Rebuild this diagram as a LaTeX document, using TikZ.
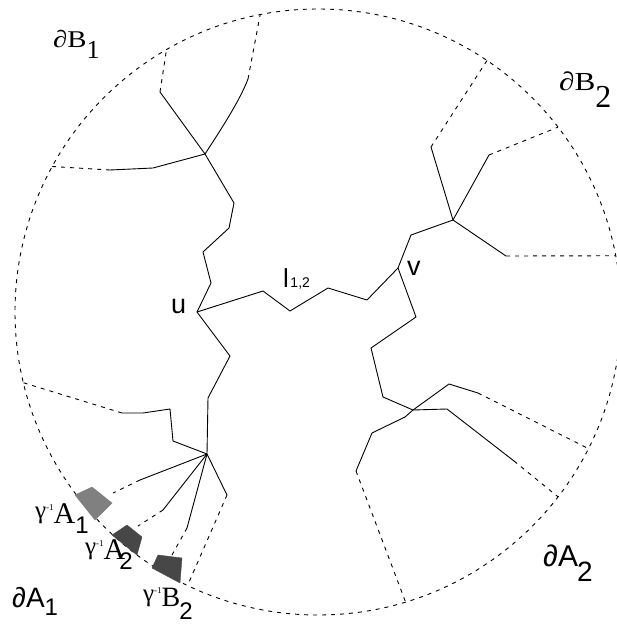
\documentclass[tikz,border=0pt]{standalone}
\usepackage{fontspec}
\setmainfont{Liberation Serif}
\newfontfamily\wideserif[FakeStretch=1.2]{Liberation Serif}
\newfontfamily\labsans{Liberation Sans}
\usetikzlibrary{calc}
\newcommand\fsz[1]{\fontsize{#1}{#1}\selectfont}

\begin{document}
\begin{tikzpicture}[x=1pt,y=-1pt,
  tree/.style={line width=0.9pt,line join=round},
  bound/.style={line width=0.9pt,dash pattern=on 4pt off 5pt},
  lab/.style={inner sep=0pt,anchor=base west},
  patchlight/.style={fill=black!50,draw=black!50,line width=0.4pt},
  patchdark/.style={fill=black!72,draw=black!72,line width=0.4pt}]

\useasboundingbox (0,0) rectangle (616,624);

% outer boundary circle
\coordinate (c) at (318,312);
\draw[bound] (c) circle[radius=303];

% points where the dashed branches meet the boundary
\coordinate (b1a) at ($(c)+(-120:303)$);
\coordinate (b1b) at ($(c)+(-101:303)$);
\coordinate (b1c) at ($(c)+(-151.3:303)$);
\coordinate (b2a) at ($(c)+(-56.1:303)$);
\coordinate (b2b) at ($(c)+(-37.6:303)$);
\coordinate (b2c) at ($(c)+(-10.7:303)$);
\coordinate (a2a) at ($(c)+(26.8:303)$);
\coordinate (a2b) at ($(c)+(37.6:303)$);
\coordinate (a2c) at ($(c)+(73.2:303)$);
\coordinate (a1a) at ($(c)+(166.5:303)$);
\coordinate (a1e) at ($(c)+(115.5:303)$);

% branching vertices
\coordinate (u)  at (197,312);
\coordinate (v)  at (398,268);
\coordinate (t1) at (205,154);
\coordinate (t2) at (453,220);
\coordinate (t3) at (413,410);
\coordinate (t4) at (207,454);

% path l_{1,2} from u to v
\draw[tree] (u) -- (263,291) -- (290,311) -- (328,288) -- (367,300) -- (v);

% subtree towards B1
\draw[tree] (u) -- (211,283) -- (203,252) -- (229,228) -- (234,203) -- (t1);
\draw[tree] (t1) -- (160,92);
\draw[bound] (160,92) -- (b1a);
\draw[tree] (t1) .. controls (222,128) and (240,100) .. (248,79);
\draw[bound] (248,79) -- (b1b);
\draw[tree] (t1) -- (153,168) -- (110,170);
\draw[bound] (110,170) -- (b1c);

% subtree towards B2
\draw[tree] (v) -- (411,235) -- (t2);
\draw[tree] (t2) -- (431,147);
\draw[bound] (431,147) -- (b2a);
\draw[tree] (t2) -- (489,155);
\draw[bound] (489,155) -- (b2b);
\draw[tree] (t2) -- (506,256);
\draw[bound] (506,256) -- (b2c);

% subtree towards A2
\draw[tree] (v) -- (416,317) -- (371,348) -- (383,397) -- (t3);
\draw[tree] (t3) -- (447,409) -- (514,461);
\draw[bound] (514,461) -- (a2b);
\draw[tree] (t3) -- (449,384) -- (478,393);
\draw[bound] (478,393) -- (a2a);
\draw[tree] (t3) -- (405,417) -- (372,433) -- (356,471);
\draw[bound] (356,471) -- (a2c);

% subtree towards A1
\draw[tree] (u) -- (230,356) -- (208,398) -- (t4);
\draw[tree] (t4) -- (173,441) -- (170,409) -- (143,413) -- (122,413);
\draw[bound] (122,413) -- (a1a);
\draw[tree] (t4) -- (140,480);
\draw[bound] (140,480) -- (113,493);
\draw[tree] (t4) -- (163,510);
\draw[bound] (163,510) -- (138,526);
\draw[tree] (t4) -- (187,528);
\draw[bound] (187,528) -- (172,555);
\draw[tree] (t4) -- (227,495);
\draw[bound] (227,495) -- (a1e);

% shaded patches on the boundary
\fill[patchlight] (75,495) -- (92,487) -- (112,503) -- (95,520) -- cycle;
\fill[patchdark] (112,535) -- (127,525) -- (142,537) -- (137,555) -- cycle;
\fill[patchdark] (158,555) -- (182,558) -- (180,583) -- (152,568) -- cycle;

% labels
\node[lab] (lb1) at (53,47) {{\wideserif\fsz{24}∂B}\raisebox{-11pt}{\fsz{26}1}};
\node[lab] (lb2) at (559,90) {{\wideserif\fsz{26}∂B}\raisebox{-17pt}{\fsz{32}2}};
\node[lab] (la1) at (12,607) {\labsans\fsz{28}∂A\raisebox{-8pt}{\fsz{24}1}};
\node[lab] (la2) at (543,566) {\labsans\fsz{30}∂A\hspace{-1pt}\raisebox{-15pt}{\fsz{28}2}};
\node[lab] (lu) at (171,313) {\labsans\fsz{27}u};
\node[lab] (lv) at (407,275) {\labsans\fsz{27}v};
\node[lab] (ll) at (283,287) {\labsans\fsz{26}l\hspace{1.5pt}\fsz{14}1,2};
\node[lab] (g1) at (35,523) {\raisebox{5pt}{\fsz{25}γ}\raisebox{13pt}{\fsz{9}-1}\fsz{30}A\raisebox{-10pt}{\labsans\fsz{24}1}};
\node[lab] (g2) at (85,559) {\raisebox{5pt}{\fsz{25}γ}\raisebox{13pt}{\fsz{9}-1}\fsz{30}A\hspace{-6pt}\raisebox{-10pt}{\labsans\fsz{24}2}};
\node[lab] (g3) at (143,606) {\raisebox{5pt}{\fsz{25}γ}\raisebox{13pt}{\fsz{9}-1}\fsz{28}B\hspace{-1pt}\raisebox{-13pt}{\labsans\fsz{24}2}};

\end{tikzpicture}
\end{document}
